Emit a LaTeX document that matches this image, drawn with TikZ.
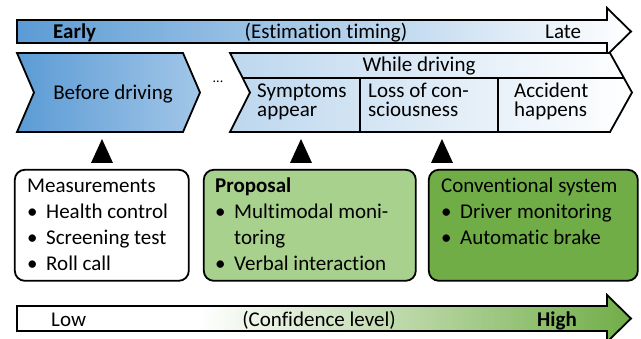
\documentclass[tikz,border=0pt]{standalone}
\usepackage{fontspec}
\setmainfont{Carlito}[Ligatures={NoCommon}]
\definecolor{blueA}{HTML}{5B9BD5}
\definecolor{blueB}{HTML}{A2C6E8}
\definecolor{blueC}{HTML}{BDD7EE}
\definecolor{greenL}{HTML}{A9D18E}
\definecolor{greenD}{HTML}{70AD47}
\newcommand\bitem[1]{\makebox[19pt][l]{\textbullet}#1}
\newcommand\bcont[1]{\hspace*{19pt}#1}
\begin{document}
\begin{tikzpicture}[x=1pt,y=-1pt,
  outl/.style={draw=black, line width=1.8pt, line join=miter},
  lbl/.style={inner sep=0pt, font=\fontsize{21}{25.7}\selectfont},
  boxnode/.style={draw=black, line width=1.8pt, rounded corners=10pt, anchor=north west, inner sep=0pt},
  tri/.style={fill=black}]
\useasboundingbox (0,0) rectangle (641,339);

% ---- top arrow (estimation timing)
\path[outl, left color=blueA, right color=white]
  (17,20) -- (607,20) -- (607,8) -- (631,31.5) -- (607,55) -- (607,43) -- (17,43) -- cycle;
\node[lbl, anchor=base west] (early) at (53,38.5) {\bfseries Early};
\node[lbl, anchor=base] (timing) at (326,38.5) {(Estimation timing)};
\node[lbl, anchor=base west] (late) at (545,38.5) {Late};

% ---- before driving chevron
\path[outl, left color=blueA, right color=blueB]
  (17,53) -- (183,53) -- (200,92.5) -- (183,132) -- (17,132) -- (34,92.5) -- cycle;
\node[lbl, anchor=base] (before) at (113,100) {Before driving};
\node[inner sep=0pt, font=\fontsize{14}{14}\selectfont] (dots) at (218,82) {...};

% ---- while driving chevron
\path[outl, left color=blueC, right color=white]
  (230,53) -- (610,53) -- (632,92.5) -- (610,132) -- (230,132) -- (250,92.5) -- cycle;
\coordinate (divL) at (242.7,78);
\coordinate (divR) at (623.9,78);
\draw[outl] (divL) -- (divR);
\coordinate (v1t) at (360,78); \coordinate (v1b) at (360,132);
\coordinate (v2t) at (498,78); \coordinate (v2b) at (498,132);
\draw[outl] (v1t) -- (v1b);
\draw[outl] (v2t) -- (v2b);
\node[lbl, anchor=base] (while) at (419,72) {While driving};
\node[lbl, anchor=base west] (symp) at (257,97.5) {\parbox[t]{100pt}{\fontsize{21}{19.5}\selectfont Symptoms\\appear}};
\node[lbl, anchor=base west] (loss) at (368,97.5) {\parbox[t]{125pt}{\fontsize{21}{19.5}\selectfont Loss of con-\\sciousness}};
\node[lbl, anchor=base west] (acc) at (514,97.5) {\parbox[t]{100pt}{\fontsize{21}{19.5}\selectfont Accident\\happens}};

% ---- pointer triangles
\coordinate (t1) at (102,163);
\coordinate (t2) at (301,163);
\coordinate (t3) at (442,163);
\foreach \t in {t1,t2,t3}
  \fill[tri] (\t) ++(-11,0) -- ++(11,-24) -- ++(11,24) -- cycle;

% ---- boxes
\node[boxnode, fill=white, minimum width=174pt, minimum height=111pt] (meas) at (13.9,168.9) {};
\node[boxnode, fill=greenL, minimum width=212pt, minimum height=111pt] (prop) at (202.9,168.9) {};
\node[boxnode, fill=greenD, minimum width=209pt, minimum height=111pt] (conv) at (427.9,168.9) {};

\node[lbl, anchor=base west] (meast) at (27,193) {\parbox[t]{170pt}{Measurements\\
  \bitem{Health control}\\ \bitem{Screening test}\\ \bitem{Roll call}}};
\node[lbl, anchor=base west] (propt) at (215,193) {\parbox[t]{200pt}{\textbf{Proposal}\\
  \bitem{Multimodal moni-}\\ \bcont{toring}\\ \bitem{Verbal interaction}}};
\node[lbl, anchor=base west] (convt) at (441,193) {\parbox[t]{200pt}{Conventional system\\
  \bitem{Driver monitoring}\\ \bitem{Automatic brake}}};

% ---- bottom arrow (confidence level)
\begin{scope}
  \clip (17,306) -- (607,306) -- (607,295) -- (631,318.5) -- (607,342) -- (607,331) -- (17,331) -- cycle;
  \fill[white] (10,290) rectangle (640,345);
  \shade[left color=white, right color=greenD] (200,290) rectangle (632,345);
\end{scope}
\draw[outl] (17,306) -- (607,306) -- (607,295) -- (631,318.5) -- (607,342) -- (607,331) -- (17,331) -- cycle;
\node[lbl, anchor=base west] (low) at (51,327) {Low};
\node[lbl, anchor=base] (conf) at (319,327) {(Confidence level)};
\node[lbl, anchor=base east] (high) at (577,327) {\bfseries High};
\end{tikzpicture}
\end{document}
